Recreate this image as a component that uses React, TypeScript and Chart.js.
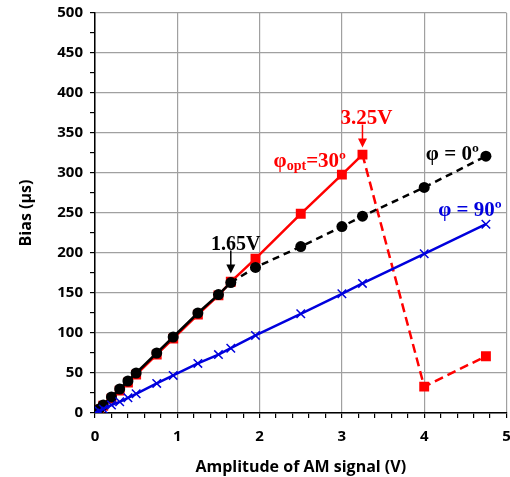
import React, { useEffect, useRef } from 'react';
import { Chart, registerables } from 'chart.js';

Chart.register(...registerables);

// Amplitude of AM signal (V)
const amplitudes = [0, 0.05, 0.1, 0.2, 0.3, 0.4, 0.5, 0.75, 0.95, 1.25, 1.5, 1.65, 1.95, 2.5, 3, 3.25, 4, 4.75];
// Bias (µs) for φ = 0º
const biasPhi0 = [0, 5, 10, 20, 30, 40, 50, 75, 95, 125, 148, 163, 182, 208, 233, 246, 282, 321];
// Bias (µs) for φopt = 30º
const biasPhiOpt = [0, 4, 9, 18, 28, 38, 48, 73, 93, 123, 147, 164, 193, 249, 298, 323, 33, 71];
// Bias (µs) for φ = 90º
const biasPhi90 = [0, 2.5, 5, 10, 14, 19, 24, 37, 47, 62, 73, 81, 97, 124, 149, 162, 199, 236];

const xMin = 0;
const xMax = 5;
const yMin = 0;
const yMax = 500;
const xMajorStep = 1;
const xMinorStep = 0.2;
const yMajorStep = 50;
const yMinorStep = 25;

const RED = '#ff0000';
const BLACK = '#000000';
const BLUE = '#0000dd';
const GRID = '#a0a0a0';
const SANS = '"Open Sans", "DejaVu Sans", sans-serif';
const SERIF = '"Liberation Serif", "Times New Roman", serif';

const isMultiple = (v: number, step: number) => Math.abs(v / step - Math.round(v / step)) < 1e-6;

function drawArrow(ctx: CanvasRenderingContext2D, x: number, y0: number, y1: number, color: string) {
  ctx.strokeStyle = color;
  ctx.fillStyle = color;
  ctx.lineWidth = 1.5;
  ctx.beginPath();
  ctx.moveTo(x, y0);
  ctx.lineTo(x, y1 - 8);
  ctx.stroke();
  ctx.beginPath();
  ctx.moveTo(x - 4.5, y1 - 9);
  ctx.lineTo(x + 4.5, y1 - 9);
  ctx.lineTo(x, y1);
  ctx.closePath();
  ctx.fill();
}

const annotationPlugin = {
  id: 'annotations',
  afterDatasetsDraw(chart: any) {
    const { ctx, scales } = chart;
    const x = scales.x;
    const y = scales.y;
    ctx.save();
    ctx.textBaseline = 'alphabetic';

    // 3.25V arrow
    const iPeak = amplitudes.indexOf(3.25);
    const px = x.getPixelForValue(amplitudes[iPeak]);
    const py = y.getPixelForValue(biasPhiOpt[iPeak]);
    drawArrow(ctx, px, py - 30, py - 7, RED);
    ctx.font = `bold 21px ${SERIF}`;
    ctx.fillStyle = RED;
    ctx.textAlign = 'center';
    ctx.fillText('3.25V', px + 4, py - 31);

    // 1.65V arrow
    const iKnee = amplitudes.indexOf(1.65);
    const kx = x.getPixelForValue(amplitudes[iKnee]);
    const ky = y.getPixelForValue(biasPhi0[iKnee]);
    drawArrow(ctx, kx, ky - 32, ky - 9, BLACK);
    ctx.font = `bold 20px ${SERIF}`;
    ctx.fillStyle = BLACK;
    ctx.textAlign = 'center';
    ctx.fillText('1.65V', kx + 5, ky - 33);

    // φopt=30º
    ctx.textAlign = 'left';
    let tx = x.getPixelForValue(2.17);
    const ty = y.getPixelForValue(307);
    ctx.fillStyle = RED;
    ctx.font = `bold 21px ${SERIF}`;
    ctx.fillText('φ', tx, ty);
    tx += ctx.measureText('φ').width;
    ctx.font = `bold 14px ${SERIF}`;
    ctx.fillText('opt', tx, ty + 3);
    tx += ctx.measureText('opt').width;
    ctx.font = `bold 21px ${SERIF}`;
    ctx.fillText('=30º', tx, ty);

    // φ = 0º
    ctx.fillStyle = BLACK;
    ctx.font = `bold 21px ${SERIF}`;
    ctx.fillText('φ = 0º', x.getPixelForValue(4.02), y.getPixelForValue(316));

    // φ = 90º
    ctx.fillStyle = BLUE;
    ctx.fillText('φ = 90º', x.getPixelForValue(4.17), y.getPixelForValue(246));

    ctx.restore();
  },
};

export default function App() {
  const canvasRef = useRef<HTMLCanvasElement | null>(null);

  useEffect(() => {
    if (!canvasRef.current) return;
    const toPts = (ys: number[]) => amplitudes.map((a, i) => ({ x: a, y: ys[i] }));

    const chart = new Chart(canvasRef.current, {
      type: 'line',
      data: {
        datasets: [
          {
            label: 'φ = 90º',
            data: toPts(biasPhi90),
            borderColor: BLUE,
            backgroundColor: BLUE,
            borderWidth: 2.5,
            pointStyle: 'crossRot',
            pointRadius: 6,
            pointBorderWidth: 1.5,
            pointBorderColor: BLUE,
            fill: false,
            tension: 0,
          },
          {
            label: 'φ = 0º',
            data: toPts(biasPhi0),
            borderColor: BLACK,
            backgroundColor: BLACK,
            borderWidth: 2.5,
            pointStyle: 'circle',
            pointRadius: 5.5,
            pointBorderWidth: 0,
            fill: false,
            tension: 0,
            segment: {
              borderDash: (c: any) => (c.p0.parsed.x >= 1.65 - 1e-9 ? [7, 5] : undefined),
            },
          },
          {
            label: 'φopt = 30º',
            data: toPts(biasPhiOpt),
            borderColor: RED,
            backgroundColor: RED,
            borderWidth: 2.5,
            pointStyle: 'rect',
            pointRadius: 7,
            pointBorderWidth: 0,
            fill: false,
            tension: 0,
            segment: {
              borderDash: (c: any) => (c.p0.parsed.x >= 3.25 - 1e-9 ? [9, 5] : undefined),
            },
          },
        ],
      },
      options: {
        responsive: false,
        animation: false,
        events: [],
        layout: { padding: { top: 13, right: 0, left: 0, bottom: 0 } },
        plugins: {
          legend: { display: false },
          tooltip: { enabled: false },
        },
        scales: {
          x: {
            type: 'linear',
            min: xMin,
            max: xMax,
            afterFit: (s: any) => {
              s.height = 64;
              s.paddingLeft = 0;
              s.paddingRight = 0;
            },
            ticks: {
              stepSize: xMinorStep,
              autoSkip: false,
              maxRotation: 0,
              padding: 10,
              color: BLACK,
              font: { family: SANS, size: 15, weight: 'bold' },
              callback: (v: any) => (isMultiple(Number(v), xMajorStep) ? String(Math.round(Number(v))) : ''),
            },
            grid: {
              color: (c: any) => (c.tick && isMultiple(c.tick.value, xMajorStep) ? GRID : 'rgba(0,0,0,0)'),
              tickColor: BLACK,
              tickLength: 5,
              lineWidth: 1.2,
            },
            border: { color: BLACK, width: 1.5 },
            title: {
              display: true,
              text: 'Amplitude of AM signal (V)',
              color: BLACK,
              font: { family: SANS, size: 16, weight: 'bold' },
              padding: { top: 2, bottom: 0 },
            },
          },
          y: {
            type: 'linear',
            min: yMin,
            max: yMax,
            afterFit: (s: any) => {
              s.width = 95;
              s.paddingTop = 0;
              s.paddingBottom = 0;
            },
            ticks: {
              stepSize: yMinorStep,
              autoSkip: false,
              padding: 7,
              color: BLACK,
              font: { family: SANS, size: 15, weight: 'bold' },
              callback: (v: any) => (isMultiple(Number(v), yMajorStep) ? String(Math.round(Number(v))) : ''),
            },
            grid: {
              color: (c: any) => (c.tick && isMultiple(c.tick.value, yMajorStep) ? GRID : 'rgba(0,0,0,0)'),
              tickColor: BLACK,
              tickLength: 5,
              lineWidth: 1.2,
            },
            border: { color: BLACK, width: 1.5 },
            title: {
              display: true,
              text: 'Bias (µs)',
              color: BLACK,
              font: { family: SANS, size: 16, weight: 'bold' },
              padding: { top: 17, bottom: 0 },
            },
          },
        },
      },
      plugins: [annotationPlugin],
    } as any);

    return () => {
      chart.destroy();
    };
  }, []);

  return (
    <div style={{ position: 'fixed', left: 0, top: 0, width: 510, height: 477, overflow: 'hidden', background: '#fff' }}>
      <canvas ref={canvasRef} width={514} height={477} style={{ display: 'block' }} />
    </div>
  );
}
